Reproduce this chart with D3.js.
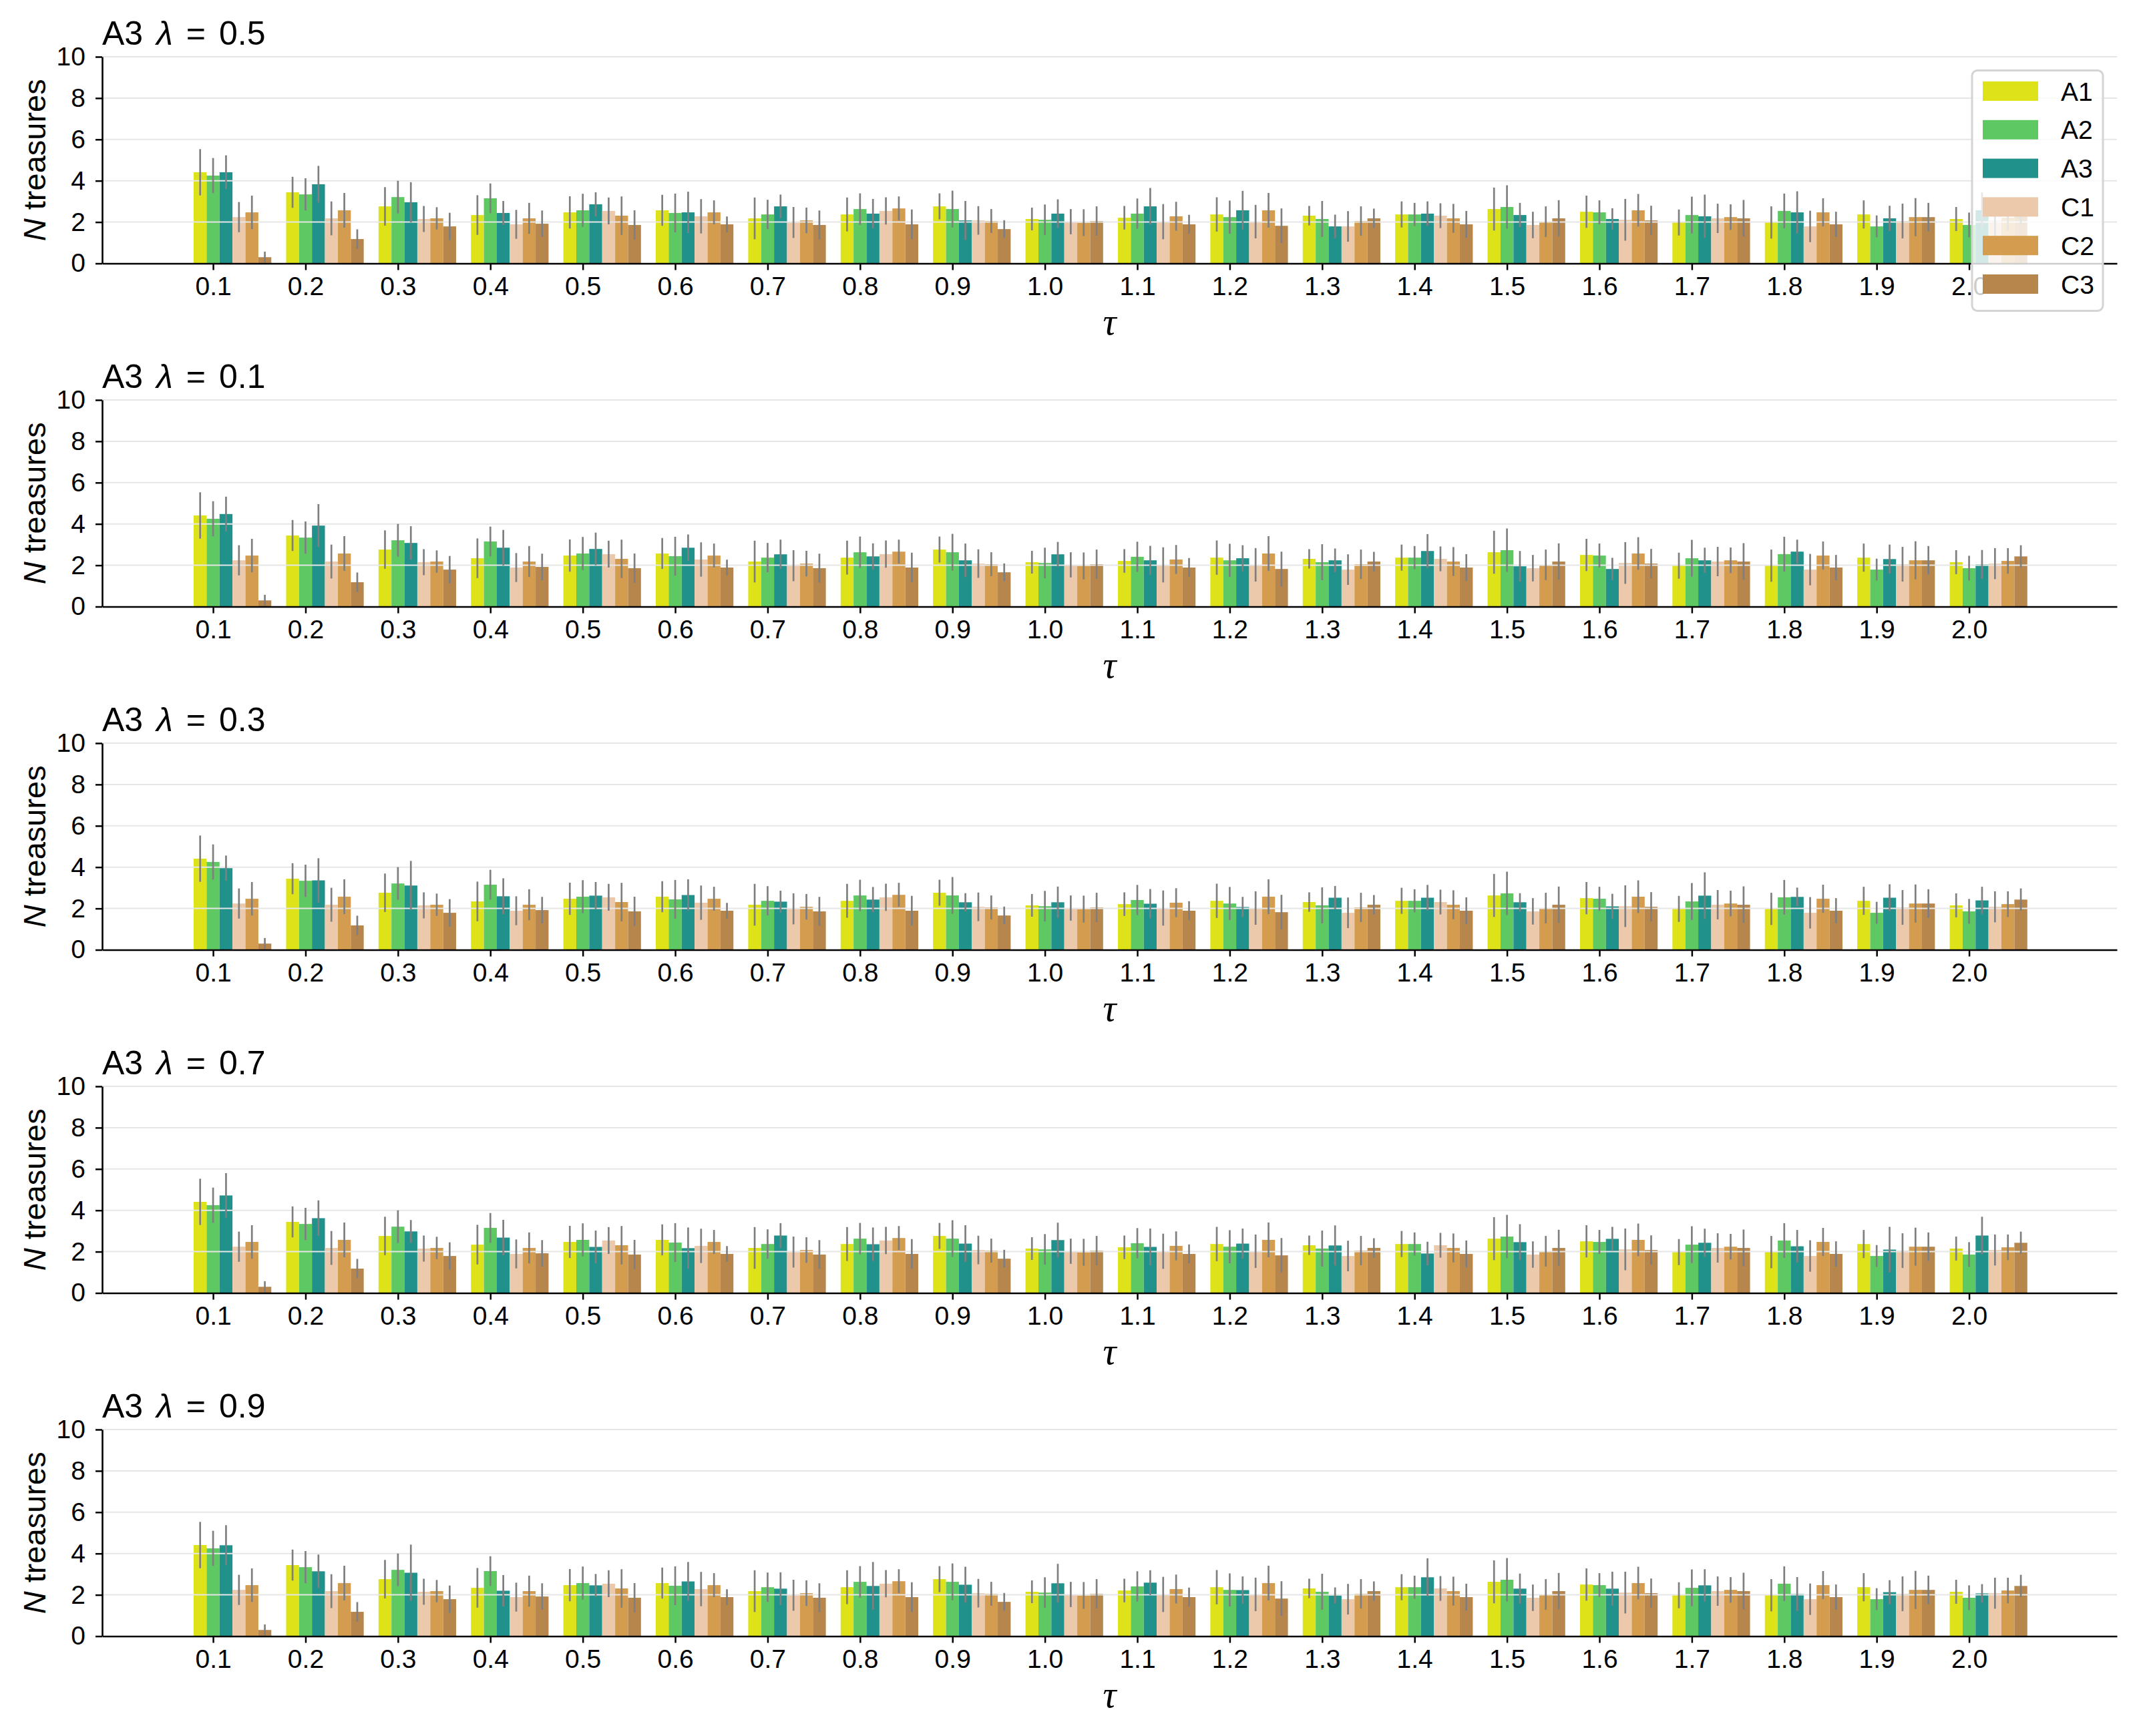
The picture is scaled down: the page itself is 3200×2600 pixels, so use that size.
<!DOCTYPE html>
<html><head><meta charset="utf-8">
<script src="https://cdn.jsdelivr.net/npm/d3@7"></script>
<style>body{margin:0;background:#fff;} svg{display:block;}</style>
</head><body>
<script>
// ---------------- data ----------------
const tauLabels = ["0.1","0.2","0.3","0.4","0.5","0.6","0.7","0.8","0.9","1.0",
                   "1.1","1.2","1.3","1.4","1.5","1.6","1.7","1.8","1.9","2.0"];
const seriesNames = ["A1","A2","A3","C1","C2","C3"];
const seriesColors = ["#dde318","#5ec962","#21918c","#ecc9ab","#d49c4e","#b7864d"];
const lambdaLabels = ["0.5","0.1","0.3","0.7","0.9"];
const yTicks = [0,2,4,6,8,10];

const A1    = [4.41,3.44,2.76,2.34,2.47,2.57,2.18,2.37,2.76,2.15,2.21,2.37,2.31,2.37,2.63,2.50,1.98,1.98,2.37,2.15];
const A1err = [1.12,0.75,0.93,0.96,0.78,0.75,1.01,0.82,0.63,0.55,0.57,0.83,0.47,0.63,1.04,0.78,0.63,0.78,0.68,0.58];
const A2    = [4.25,3.34,3.21,3.15,2.57,2.44,2.37,2.63,2.63,2.11,2.41,2.24,2.15,2.37,2.73,2.47,2.34,2.54,1.79,1.86];
const A2err = [0.85,0.78,0.79,0.72,0.80,0.94,0.71,0.76,0.89,0.74,0.73,0.80,0.87,0.56,1.05,0.58,0.89,0.84,0.53,0.60];
const C1    = [2.24,2.18,2.15,1.89,2.54,2.28,1.98,2.54,2.08,2.02,2.02,2.02,1.79,2.31,1.86,2.11,2.18,1.79,2.05,2.08];
const C1err = [0.73,0.82,0.63,0.70,0.65,0.83,0.75,0.66,0.69,0.61,0.85,0.81,0.74,0.60,0.64,1.01,0.71,0.76,0.84,0.75];
const C2    = [2.47,2.57,2.18,2.18,2.31,2.47,2.08,2.66,2.05,1.97,2.28,2.57,2.05,2.18,2.02,2.57,2.24,2.47,2.24,2.21];
const C2err = [0.81,0.84,0.54,0.75,0.93,0.58,0.62,0.58,0.58,0.65,0.70,0.84,0.71,0.70,0.74,0.79,0.62,0.68,0.92,0.62];
const C3    = [0.30,1.18,1.79,1.92,1.86,1.89,1.86,1.89,1.66,2.05,1.89,1.82,2.18,1.89,2.18,2.08,2.18,1.89,2.24,2.43];
const C3err = [0.27,0.47,0.66,0.64,0.71,0.38,0.70,0.72,0.43,0.71,0.46,0.84,0.47,0.65,0.88,0.71,0.89,0.61,0.69,0.54];

const A3_l05    = [4.41,3.83,2.96,2.44,2.86,2.47,2.76,2.41,2.08,2.41,2.76,2.57,1.79,2.41,2.34,2.15,2.28,2.47,2.18,2.57];
const A3err_l05 = [0.82,0.89,0.97,0.58,0.58,1.00,0.57,0.71,0.94,0.69,0.89,0.94,0.57,0.59,0.59,0.52,1.05,1.02,0.61,0.86];
const A3_l01    = [4.48,3.92,3.08,2.85,2.79,2.85,2.53,2.43,2.24,2.53,2.24,2.34,2.24,2.69,1.95,1.82,2.24,2.66,2.30,2.04];
const A3err_l01 = [0.84,1.04,0.81,0.86,0.79,0.64,0.71,0.63,0.81,0.60,0.70,0.63,0.57,0.82,0.74,0.54,0.61,0.58,0.70,0.70];
const A3_l03    = [3.95,3.36,3.11,2.59,2.62,2.65,2.33,2.43,2.30,2.30,2.23,2.07,2.52,2.52,2.30,2.10,2.62,2.56,2.52,2.39];
const A3err_l03 = [0.61,1.07,1.19,0.87,0.66,0.76,0.53,0.61,0.44,0.76,0.71,0.49,0.57,0.62,0.44,0.61,1.13,0.45,0.65,0.66];
const A3_l07    = [4.72,3.62,2.98,2.68,2.23,2.17,2.78,2.36,2.39,2.56,2.23,2.39,2.30,1.91,2.46,2.62,2.43,2.26,2.10,2.78];
const A3err_l07 = [1.08,0.86,0.55,0.86,0.79,1.00,0.60,0.81,0.89,0.84,0.89,0.73,0.97,0.57,0.87,0.58,0.68,0.79,1.10,0.91];
const A3_l09    = [4.40,3.14,3.07,2.20,2.46,2.65,2.30,2.43,2.49,2.56,2.59,2.23,1.97,2.85,2.30,2.30,2.46,2.04,2.13,2.07];
const A3err_l09 = [0.97,0.81,1.36,0.76,0.55,0.94,0.79,1.16,0.87,0.94,0.60,0.66,0.39,0.92,0.73,0.82,0.78,0.82,0.58,0.45];

const A3panels    = [A3_l05, A3_l01, A3_l03, A3_l07, A3_l09];
const A3errPanels = [A3err_l05, A3err_l01, A3err_l03, A3err_l07, A3err_l09];

// ---------------- layout ----------------
const W = 3200, H = 2600;
const FONT = "'Liberation Sans', Arial, sans-serif";
const left = 153, right = 3170;
const panelTop0 = 85, panelH = 309.5, panelStep = 514;
const barW = 0.14;
const offsets = [-1, 0, 1, 2, 3, 4];

const svg = d3.select("body").append("svg").attr("width", W).attr("height", H);
svg.append("rect").attr("width", W).attr("height", H).attr("fill", "#fff");

const x = d3.scaleLinear().domain([-1.2, 20.6]).range([left, right]);
const y = d3.scaleLinear().domain([0, 10]).range([panelH, 0]);
const bw = x(barW) - x(0);

lambdaLabels.forEach((lam, k) => {
  const g = svg.append("g").attr("transform", `translate(0,${panelTop0 + k * panelStep})`);
  const vals = [A1, A2, A3panels[k], C1, C2, C3];
  const errs = [A1err, A2err, A3errPanels[k], C1err, C2err, C3err];

  // bars
  vals.forEach((arr, s) => {
    g.append("g").selectAll("rect").data(arr).join("rect")
      .attr("x", (d, i) => x(i + offsets[s] * barW) - bw / 2)
      .attr("width", bw)
      .attr("y", d => y(d))
      .attr("height", d => y(0) - y(d))
      .attr("fill", seriesColors[s]);
  });

  // grid (drawn above bars)
  g.append("g").selectAll("line").data(yTicks.filter(t => t > 0)).join("line")
    .attr("x1", left).attr("x2", right)
    .attr("y1", d => y(d)).attr("y2", d => y(d))
    .attr("stroke", "#e6e6e6").attr("stroke-width", 2);

  // error bars
  vals.forEach((arr, s) => {
    g.append("g").selectAll("line").data(arr).join("line")
      .attr("x1", (d, i) => x(i + offsets[s] * barW))
      .attr("x2", (d, i) => x(i + offsets[s] * barW))
      .attr("y1", (d, i) => y(Math.max(0, d - errs[s][i])))
      .attr("y2", (d, i) => y(d + errs[s][i]))
      .attr("stroke", "#7f7f7f").attr("stroke-width", 2.7);
  });

  // axes
  const ya = g.append("g").attr("transform", `translate(${left},0)`)
    .call(d3.axisLeft(y).tickValues(yTicks).tickSize(10).tickSizeOuter(0).tickPadding(15));
  const xa = g.append("g").attr("transform", `translate(0,${panelH})`)
    .call(d3.axisBottom(x).tickValues(d3.range(tauLabels.length))
      .tickFormat(i => tauLabels[i]).tickSize(10).tickSizeOuter(0).tickPadding(10));
  [ya, xa].forEach(a => {
    a.attr("font-family", FONT).attr("font-size", 39);
    a.selectAll("text").attr("fill", "#000");
    a.selectAll("line").attr("stroke", "#000").attr("stroke-width", 2.5);
    a.select(".domain").attr("stroke", "#000").attr("stroke-width", 2.6);
  });

  // title
  const t = g.append("text").attr("x", left).attr("y", -18)
    .attr("font-family", FONT).attr("font-size", 50).attr("fill", "#000");
  t.append("tspan").text("A3");
  t.append("tspan").attr("dx", 20).attr("font-style", "italic").text("λ");
  t.append("tspan").attr("dx", 20).text("=");
  t.append("tspan").attr("dx", 20).text(lam);

  // y label
  const yl = g.append("text")
    .attr("transform", `translate(68,${panelH / 2}) rotate(-90)`)
    .attr("text-anchor", "middle")
    .attr("font-family", FONT).attr("font-size", 47).attr("fill", "#000");
  yl.append("tspan").attr("font-style", "italic").text("N");
  yl.append("tspan").text(" treasures");

  // x label
  g.append("text").attr("x", (left + right) / 2).attr("y", panelH + 106)
    .attr("text-anchor", "middle")
    .attr("font-family", "'Liberation Serif', 'DejaVu Serif', serif")
    .attr("font-style", "italic").attr("font-size", 56).attr("fill", "#000")
    .text("τ");

  // legend on first panel
  if (k === 0) {
    const lg = g.append("g").attr("transform", `translate(2953,${105.5 - panelTop0})`);
    lg.append("rect").attr("width", 196).attr("height", 360).attr("rx", 8)
      .attr("fill", "#fff").attr("fill-opacity", 0.8)
      .attr("stroke", "#d4d4d4").attr("stroke-width", 3);
    const items = lg.selectAll("g.item").data(seriesNames).join("g")
      .attr("class", "item")
      .attr("transform", (d, i) => `translate(16,${16.5 + i * 57.8})`);
    items.append("rect").attr("width", 83).attr("height", 29)
      .attr("fill", (d, i) => seriesColors[i]);
    items.append("text").attr("x", 117).attr("y", 28.5)
      .attr("font-family", FONT).attr("font-size", 39).attr("fill", "#000")
      .text(d => d);
  }
});
</script>
</body></html>
